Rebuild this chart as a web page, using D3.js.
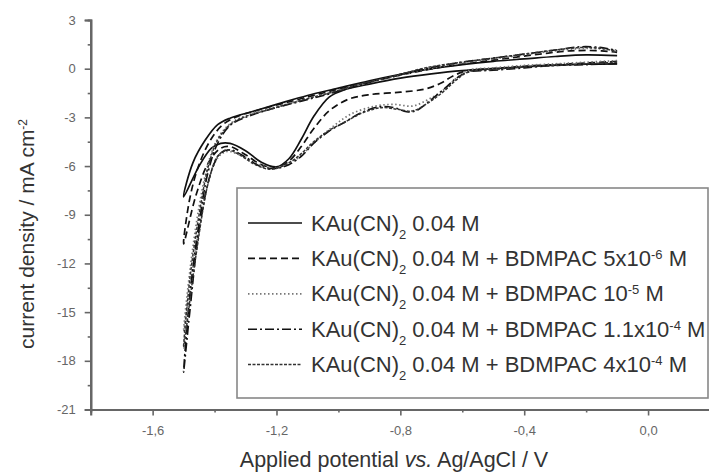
<!DOCTYPE html>
<html>
<head>
<meta charset="utf-8">
<title>Cyclic voltammograms</title>
<script src="https://cdn.jsdelivr.net/npm/d3@7/dist/d3.min.js"></script>
<style>
	body { margin: 0; background: #fff; }
	svg text { font-family: "Liberation Sans", Arial, sans-serif; }
</style>
</head>
<body>
<div id="chart"></div>
<script>
	// potential (V) / current density (mA cm-2)
	var cvBase = [
		[-0.1, 0.3], [-0.2, 0.28], [-0.3, 0.22], [-0.4, 0.12], [-0.5, 0.0], [-0.6, -0.12], [-0.7, -0.32],
		[-0.8, -0.58], [-0.9, -0.95], [-0.98, -1.3], [-1.03, -1.75], [-1.08, -2.95], [-1.12, -4.35],
		[-1.16, -5.55], [-1.2, -6.05], [-1.25, -5.75], [-1.3, -5.05], [-1.35, -4.6], [-1.38, -4.6],
		[-1.41, -4.9], [-1.45, -6.0], [-1.5, -7.9],
		[-1.47, -5.8], [-1.43, -4.4], [-1.39, -3.45], [-1.35, -3.05], [-1.28, -2.65], [-1.2, -2.2],
		[-1.1, -1.65], [-1.0, -1.2], [-0.9, -0.75], [-0.8, -0.35], [-0.7, 0.0], [-0.6, 0.25],
		[-0.5, 0.45], [-0.4, 0.6], [-0.3, 0.75], [-0.2, 0.85], [-0.1, 0.8]
	];
	var cv5e6 = [
		[-0.1, 0.45], [-0.2, 0.35], [-0.3, 0.25], [-0.4, 0.15], [-0.5, 0.0], [-0.58, -0.1], [-0.63, -0.45],
		[-0.67, -0.9], [-0.72, -1.25], [-0.8, -1.45], [-0.9, -1.6], [-0.97, -1.9], [-1.03, -2.6],
		[-1.08, -3.7], [-1.12, -4.8], [-1.16, -5.7], [-1.2, -6.1], [-1.25, -5.9], [-1.3, -5.3],
		[-1.35, -4.8], [-1.38, -4.9], [-1.42, -5.8], [-1.46, -7.8], [-1.5, -10.8],
		[-1.48, -8.0], [-1.45, -5.9], [-1.41, -4.3], [-1.37, -3.4], [-1.32, -2.9], [-1.25, -2.5],
		[-1.15, -2.0], [-1.05, -1.5], [-0.95, -1.05], [-0.85, -0.6], [-0.75, -0.2], [-0.65, 0.15],
		[-0.55, 0.4], [-0.45, 0.65], [-0.35, 0.9], [-0.25, 1.1], [-0.15, 1.1], [-0.1, 1.0]
	];
	var cv1e5 = [
		[-0.1, 0.5], [-0.2, 0.4], [-0.3, 0.3], [-0.4, 0.2], [-0.5, 0.05], [-0.58, -0.1], [-0.62, -0.6],
		[-0.66, -1.3], [-0.71, -1.9], [-0.76, -2.3], [-0.82, -2.2], [-0.88, -2.3], [-0.96, -2.8],
		[-1.02, -3.6], [-1.08, -4.6], [-1.13, -5.5], [-1.18, -6.0], [-1.22, -6.1], [-1.27, -5.8],
		[-1.32, -5.3], [-1.36, -5.1], [-1.39, -5.5], [-1.42, -7.0], [-1.46, -11.0], [-1.5, -16.2],
		[-1.48, -12.5], [-1.45, -8.5], [-1.42, -5.8], [-1.39, -4.3], [-1.35, -3.4], [-1.3, -2.9],
		[-1.22, -2.45], [-1.12, -1.95], [-1.02, -1.45], [-0.92, -0.95], [-0.82, -0.5], [-0.72, -0.05],
		[-0.62, 0.3], [-0.5, 0.6], [-0.4, 0.85], [-0.3, 1.1], [-0.2, 1.25], [-0.1, 1.15]
	];
	var cv11e5 = [
		[-0.1, 0.3], [-0.2, 0.25], [-0.3, 0.2], [-0.4, 0.05], [-0.5, -0.1], [-0.58, -0.2], [-0.62, -0.6],
		[-0.65, -1.1], [-0.7, -1.9], [-0.75, -2.6], [-0.78, -2.65], [-0.82, -2.4], [-0.87, -2.35],
		[-0.93, -2.75], [-0.98, -3.3], [-1.03, -3.85], [-1.08, -4.6], [-1.12, -5.4], [-1.17, -6.0],
		[-1.21, -6.15], [-1.26, -5.95], [-1.3, -5.45], [-1.35, -5.0], [-1.38, -5.2], [-1.41, -6.3],
		[-1.45, -10.0], [-1.48, -15.0], [-1.5, -18.7],
		[-1.48, -14.0], [-1.45, -9.5], [-1.42, -6.3], [-1.39, -4.6], [-1.35, -3.5], [-1.3, -3.0],
		[-1.22, -2.5], [-1.12, -2.0], [-1.02, -1.5], [-0.92, -0.95], [-0.82, -0.45], [-0.72, 0.0],
		[-0.62, 0.35], [-0.5, 0.65], [-0.4, 0.9], [-0.3, 1.15], [-0.22, 1.35], [-0.15, 1.3], [-0.1, 1.1]
	];
	var cv4e4 = [
		[-0.1, 0.4], [-0.2, 0.3], [-0.3, 0.2], [-0.4, 0.1], [-0.5, -0.05], [-0.58, -0.2], [-0.62, -0.7],
		[-0.66, -1.4], [-0.71, -2.1], [-0.76, -2.6], [-0.81, -2.5], [-0.86, -2.4], [-0.92, -2.7],
		[-0.98, -3.3], [-1.03, -3.8], [-1.08, -4.5], [-1.13, -5.4], [-1.18, -6.0], [-1.22, -6.2],
		[-1.27, -5.9], [-1.32, -5.3], [-1.36, -5.0], [-1.39, -5.4], [-1.42, -7.0], [-1.46, -11.5],
		[-1.5, -17.2],
		[-1.48, -13.0], [-1.45, -9.0], [-1.42, -6.0], [-1.39, -4.4], [-1.35, -3.45], [-1.3, -2.95],
		[-1.22, -2.5], [-1.12, -1.95], [-1.02, -1.45], [-0.92, -0.9], [-0.82, -0.45], [-0.72, 0.05],
		[-0.62, 0.35], [-0.5, 0.65], [-0.4, 0.9], [-0.3, 1.15], [-0.22, 1.3], [-0.15, 1.25], [-0.1, 1.05]
	];

	var additive = ["", "5x10", "10", "1.1x10", "4x10"];
	var exponent = ["", "-6", "-5", "-4", "-4"];

	var xMajor = [-1.6, -1.2, -0.8, -0.4, 0.0];
	var xMinor = [-1.8, -1.4, -1.0, -0.6, -0.2, 0.2];
	var yMajor = [3, 0, -3, -6, -9, -12, -15, -18, -21];
	var yMinor = [1.5, -1.5, -4.5, -7.5, -10.5, -13.5, -16.5, -19.5];

	var curves = [cvBase, cv5e6, cv1e5, cv11e5, cv4e4];
	var styles = [
		{ dash: null, color: "#111", w: 1.7 },
		{ dash: "7,4", color: "#111", w: 1.7 },
		{ dash: "1.5,2.5", color: "#777", w: 1.7 },
		{ dash: "9,3,2,3", color: "#111", w: 1.6 },
		{ dash: "3,1.5", color: "#333", w: 1.5 }
	];

	var width = 709, height = 472;
	var svg = d3.select("#chart").append("svg")
		.attr("width", width)
		.attr("height", height);

	var x = d3.scaleLinear().domain([-1.8, 0.2]).range([90.7, 710]);
	var y = d3.scaleLinear().domain([-21, 3]).range([409.5, 20]);

	var axisColor = "#666";
	var fmt = function(d) { return d3.format(".1f")(d).replace("−", "-").replace(".", ","); };

	// x axis
	var gx = svg.append("g").attr("transform", "translate(0," + y(-21) + ")");
	gx.call(d3.axisBottom(x).tickValues(xMajor).tickSize(6).tickPadding(10).tickFormat(fmt));
	gx.append("g").call(d3.axisBottom(x).tickValues(xMinor).tickSize(3).tickFormat(""));

	// y axis
	var gy = svg.append("g").attr("transform", "translate(" + x(-1.8) + ",0)");
	gy.call(d3.axisLeft(y).tickValues(yMajor).tickSize(6).tickPadding(9)
		.tickFormat(function(d) { return String(d); }));
	gy.append("g").call(d3.axisLeft(y).tickValues(yMinor).tickSize(3).tickFormat(""));

	svg.selectAll(".domain").attr("stroke", axisColor).attr("stroke-width", 2.2);
	svg.selectAll(".tick line").attr("stroke", axisColor).attr("stroke-width", 1.6);
	svg.selectAll(".tick text").attr("fill", "#666").style("font-size", "13px");

	// axis titles
	var xt = svg.append("text")
		.attr("x", 394).attr("y", 467)
		.attr("text-anchor", "middle")
		.style("font-size", "21.5px").attr("fill", "#333");
	xt.append("tspan").text("Applied potential ");
	xt.append("tspan").style("font-style", "italic").text("vs.");
	xt.append("tspan").text(" Ag/AgCl / V");

	var yt = svg.append("text")
		.attr("transform", "translate(34,234) rotate(-90)")
		.attr("text-anchor", "middle")
		.style("font-size", "21px").attr("fill", "#333");
	yt.append("tspan").text("current density / mA cm");
	yt.append("tspan").attr("baseline-shift", "super").style("font-size", "12px").text("-2");

	// curves
	var line = d3.line()
		.x(function(d) { return x(d[0]); })
		.y(function(d) { return y(d[1]); })
		.curve(d3.curveCatmullRom.alpha(0.5));

	svg.selectAll(".cv")
		.data(curves)
		.enter()
			.append("path")
			.attr("class", "cv")
			.attr("d", line)
			.attr("fill", "none")
			.attr("stroke", function(d, i) { return styles[i].color; })
			.attr("stroke-width", function(d, i) { return styles[i].w; })
			.attr("stroke-dasharray", function(d, i) { return styles[i].dash; });

	// legend
	var legend = svg.append("g");
	legend.append("rect")
		.attr("x", 237).attr("y", 188)
		.attr("width", 471).attr("height", 210)
		.attr("fill", "#fff")
		.attr("stroke", "#888").attr("stroke-width", 1.6);

	var rows = legend.selectAll(".row")
		.data(styles)
		.enter()
			.append("g")
			.attr("class", "row")
			.attr("transform", function(d, i) { return "translate(0," + (223 + i * 35.4) + ")"; });

	rows.append("line")
		.attr("x1", 248).attr("x2", 302)
		.attr("stroke", function(d) { return d.color; })
		.attr("stroke-width", function(d) { return d.w; })
		.attr("stroke-dasharray", function(d) { return d.dash; });

	var labels = rows.append("text")
		.attr("x", 311).attr("y", 7.5)
		.style("font-size", "22px").attr("fill", "#333");
	labels.append("tspan").text("KAu(CN)");
	labels.append("tspan").attr("baseline-shift", "sub").style("font-size", "13px").text("2");
	labels.append("tspan").text(function(d, i) {
		return " 0.04 M" + (i > 0 ? " + BDMPAC " + additive[i] : "");
	});
	labels.append("tspan").attr("baseline-shift", "super").style("font-size", "13px")
		.text(function(d, i) { return exponent[i]; });
	labels.append("tspan").text(function(d, i) { return i > 0 ? " M" : ""; });
</script>
</body>
</html>
